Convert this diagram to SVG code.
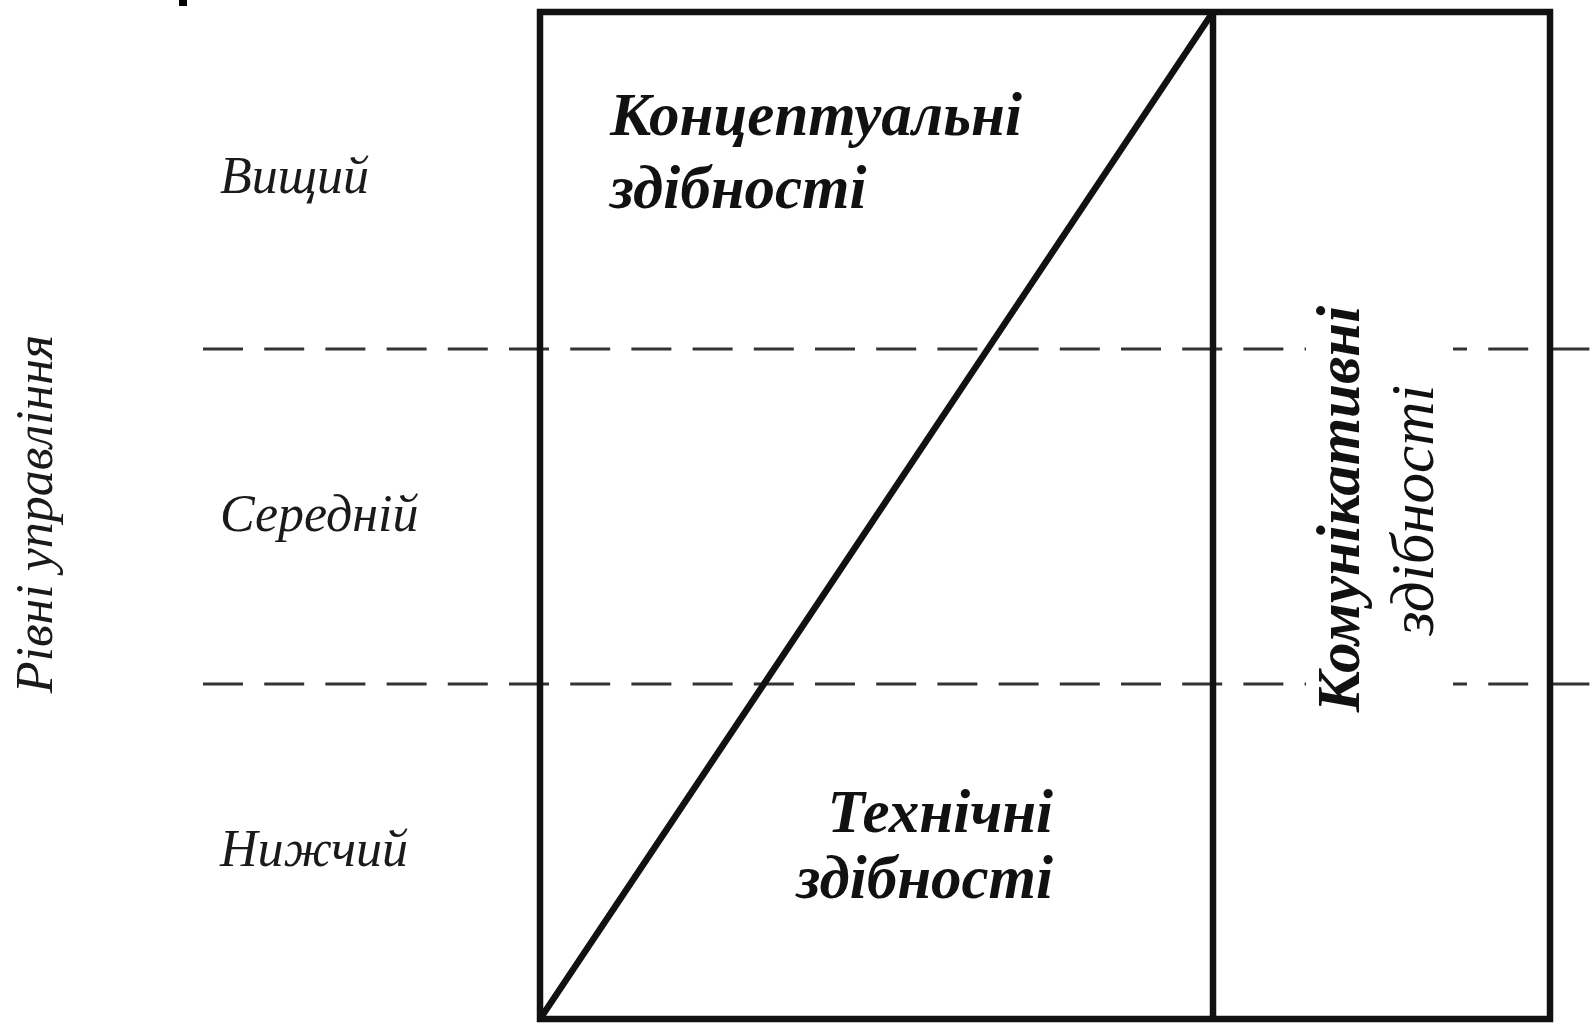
<svg xmlns="http://www.w3.org/2000/svg" width="1594" height="1031" viewBox="0 0 1594 1031">
  <style>
    .frame { fill: none; stroke: #111; stroke-width: 6.5; stroke-linejoin: miter; }
    .line { stroke: #111; stroke-width: 6.5; fill: none; }
    .dash { stroke: #333; stroke-width: 3; stroke-dasharray: 40 21.2; fill: none; }
    .lvl { font-family: "Liberation Serif", "Times New Roman", serif; font-style: italic; font-size: 52px; fill: #1a1a1a; }
    .skill { font-family: "Liberation Serif", "Times New Roman", serif; font-style: italic; font-weight: bold; font-size: 61px; fill: #111; }
    .skill2 { font-family: "Liberation Serif", "Times New Roman", serif; font-style: italic; font-size: 61px; fill: #111; }
  </style>
  <rect x="0" y="0" width="1594" height="1031" fill="#fff"/>
  <rect x="179" y="0" width="8" height="6" fill="#000"/>

  <g id="connectors">
    <line class="dash" x1="203" y1="349" x2="1592" y2="349"/>
    <line class="dash" x1="203" y1="684" x2="1592" y2="684"/>
    <rect x="1306" y="300" width="147" height="420" fill="#fff"/>
    <line class="line" x1="540" y1="1019" x2="1213" y2="12"/>
  </g>

  <g id="frame">
    <rect class="frame" x="540" y="12" width="1010" height="1007"/>
    <line class="line" x1="1213" y1="12" x2="1213" y2="1019"/>
  </g>

  <g id="axis-label">
    <text class="lvl" transform="translate(52,514) rotate(-90)" text-anchor="middle" font-size="55">Рівні управління</text>
  </g>
  <g id="level-top">
    <text class="lvl" x="220" y="193">Вищий</text>
  </g>
  <g id="level-middle">
    <text class="lvl" x="220" y="531">Середній</text>
  </g>
  <g id="level-bottom">
    <text class="lvl" x="220" y="866">Нижчий</text>
  </g>

  <g id="conceptual">
    <text class="skill" x="610" y="135">Концептуальні</text>
    <text class="skill" x="610" y="208">здібності</text>
  </g>
  <g id="technical">
    <text class="skill" x="1053" y="832" text-anchor="end">Технічні</text>
    <text class="skill" x="1053" y="898" text-anchor="end">здібності</text>
  </g>
  <g id="communicative">
    <text class="skill" transform="translate(1359,509) rotate(-90)" text-anchor="middle">Комунікативні</text>
    <text class="skill2" transform="translate(1433,510) rotate(-90)" text-anchor="middle">здібності</text>
  </g>
</svg>
